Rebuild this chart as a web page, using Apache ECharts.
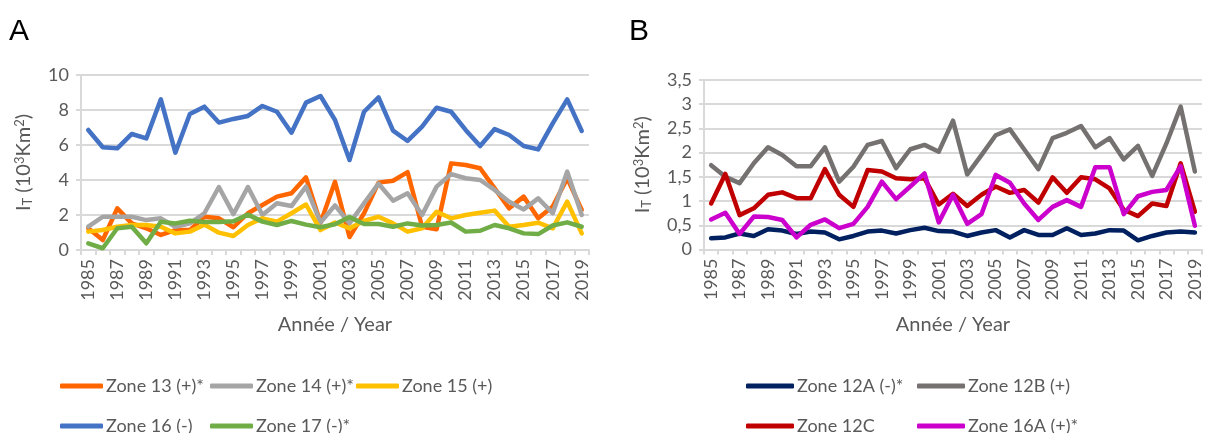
<!DOCTYPE html>
<html>
<head>
<meta charset="utf-8">
<script src="https://cdn.jsdelivr.net/npm/echarts@6/dist/echarts.min.js"></script>
<style>
  html, body { margin: 0; padding: 0; background: #ffffff; }
  #chart { width: 1205px; height: 433px; }
</style>
</head>
<body>
<div id="chart"></div>
<script>
// Years shared by both panels
const years = [
  1985, 1986, 1987, 1988, 1989, 1990, 1991, 1992, 1993, 1994,
  1995, 1996, 1997, 1998, 1999, 2000, 2001, 2002, 2003, 2004,
  2005, 2006, 2007, 2008, 2009, 2010, 2011, 2012, 2013, 2014,
  2015, 2016, 2017, 2018, 2019
];

// Panel A: I_T (10^3 km^2) per zone
const zone13 = [1.24, 0.57, 2.38, 1.52, 1.24, 0.86, 1.14, 1.14, 1.90, 1.81,
  1.30, 2.10, 2.57, 3.05, 3.24, 4.15, 1.55, 3.90, 0.74, 2.10,
  3.85, 3.96, 4.45, 1.33, 1.18, 4.95, 4.86, 4.67, 3.52, 2.38,
  3.05, 1.81, 2.48, 4.10, 2.29];
const zone14 = [1.33, 1.90, 1.90, 1.90, 1.71, 1.81, 1.33, 1.52, 2.10, 3.60,
  2.05, 3.60, 2.00, 2.67, 2.51, 3.62, 1.57, 2.55, 1.52, 2.67,
  3.79, 2.82, 3.24, 2.00, 3.62, 4.34, 4.10, 4.00, 3.43, 2.76,
  2.32, 2.95, 2.10, 4.48, 2.00];
const zone15 = [1.05, 1.14, 1.33, 1.43, 1.43, 1.33, 0.95, 1.05, 1.45, 0.99,
  0.80, 1.43, 1.81, 1.62, 2.10, 2.60, 1.14, 1.57, 1.24, 1.66,
  1.90, 1.52, 1.05, 1.24, 2.19, 1.81, 2.00, 2.13, 2.25, 1.33,
  1.43, 1.56, 1.24, 2.76, 0.95];
const zone16 = [6.86, 5.87, 5.81, 6.63, 6.38, 8.61, 5.56, 7.77, 8.19, 7.28,
  7.49, 7.66, 8.23, 7.90, 6.70, 8.42, 8.80, 7.43, 5.14, 7.90,
  8.72, 6.82, 6.23, 7.05, 8.13, 7.90, 6.86, 5.94, 6.91, 6.57,
  5.94, 5.75, 7.24, 8.61, 6.80];
const zone17 = [0.38, 0.10, 1.24, 1.33, 0.38, 1.62, 1.52, 1.67, 1.60, 1.60,
  1.64, 2.02, 1.62, 1.43, 1.66, 1.45, 1.30, 1.47, 1.88, 1.49,
  1.49, 1.33, 1.52, 1.40, 1.43, 1.57, 1.05, 1.10, 1.43, 1.24,
  0.95, 0.91, 1.40, 1.58, 1.33];

// Panel B: I_T (10^3 km^2) per zone
const zone12A = [0.23, 0.25, 0.33, 0.28, 0.42, 0.39, 0.32, 0.37, 0.35, 0.21,
  0.28, 0.37, 0.39, 0.33, 0.40, 0.45, 0.38, 0.37, 0.28, 0.35,
  0.40, 0.25, 0.40, 0.30, 0.30, 0.44, 0.30, 0.33, 0.40, 0.39,
  0.19, 0.28, 0.35, 0.37, 0.35];
const zone12B = [1.74, 1.50, 1.37, 1.78, 2.11, 1.95, 1.72, 1.72, 2.11, 1.40,
  1.71, 2.16, 2.24, 1.68, 2.07, 2.16, 2.02, 2.66, 1.55, 1.95,
  2.36, 2.48, 2.07, 1.66, 2.30, 2.41, 2.55, 2.11, 2.30, 1.86,
  2.14, 1.52, 2.19, 2.95, 1.61];
const zone12C = [0.95, 1.56, 0.71, 0.85, 1.13, 1.18, 1.06, 1.06, 1.66, 1.13,
  0.88, 1.64, 1.61, 1.47, 1.45, 1.47, 0.93, 1.15, 0.90, 1.13,
  1.30, 1.17, 1.23, 0.97, 1.49, 1.17, 1.49, 1.45, 1.26, 0.82,
  0.69, 0.95, 0.90, 1.78, 0.78];
const zone16A = [0.62, 0.76, 0.32, 0.68, 0.67, 0.61, 0.25, 0.51, 0.62, 0.44,
  0.53, 0.88, 1.40, 1.04, 1.30, 1.57, 0.56, 1.13, 0.53, 0.73,
  1.54, 1.38, 0.95, 0.61, 0.88, 1.02, 0.88, 1.70, 1.70, 0.73,
  1.10, 1.19, 1.23, 1.72, 0.49];

// Tick labels
const yTicksA = [0, 2, 4, 6, 8, 10];
const yTicksB = [0, 0.5, 1, 1.5, 2, 2.5, 3, 3.5];
const xTitle = 'Année / Year';

const FONT = 'Lato, "Open Sans", sans-serif';
const TXT = '#595959';
const GRID = '#d9d9d9';

const chart = echarts.init(document.getElementById('chart'), null, { renderer: 'canvas' });

const yName = '{i|I}{s|T}{n| (10}{p|3}{n|Km}{p|2}{n|)}';
const yNameStyle = {
  color: TXT,
  fontFamily: FONT,
  rich: {
    i: { fontSize: 20, fontFamily: FONT, color: TXT },
    s: { fontSize: 13, fontFamily: FONT, color: TXT, padding: [8, 0, 0, 0] },
    n: { fontSize: 20, fontFamily: FONT, color: TXT },
    p: { fontSize: 13, fontFamily: FONT, color: TXT, padding: [0, 0, 9, 0] }
  }
};

function xAxis(gridIndex) {
  return {
    type: 'category',
    gridIndex: gridIndex,
    data: years.map(String),
    boundaryGap: true,
    name: xTitle,
    nameLocation: 'middle',
    nameGap: 65,
    nameTextStyle: { fontSize: 20, fontFamily: FONT, color: TXT },
    axisLine: { lineStyle: { color: GRID, width: 2 } },
    axisTick: { show: true, interval: 0, length: 5, lineStyle: { color: GRID, width: 2 } },
    axisLabel: {
      interval: 1, rotate: 90, margin: 9,
      fontSize: 18, fontFamily: FONT, color: TXT
    },
    splitLine: { show: false }
  };
}

function yAxis(gridIndex, ticks, comma) {
  const step = ticks[1] - ticks[0];
  return {
    type: 'value',
    gridIndex: gridIndex,
    min: ticks[0],
    max: ticks[ticks.length - 1],
    interval: step,
    name: yName,
    nameLocation: 'middle',
    nameRotate: 90,
    nameGap: comma ? 50 : 46,
    nameTextStyle: yNameStyle,
    axisLine: { show: true, lineStyle: { color: GRID, width: 2 } },
    axisTick: { show: true, length: 5, lineStyle: { color: GRID, width: 2 } },
    axisLabel: {
      margin: 12, fontSize: 18, fontFamily: FONT, color: TXT,
      formatter: v => comma ? String(v).replace('.', ',') : String(v)
    },
    splitLine: { show: true, lineStyle: { color: GRID, width: 2 } }
  };
}

function line(name, data, color, axisIdx) {
  return {
    name: name,
    type: 'line',
    xAxisIndex: axisIdx,
    yAxisIndex: axisIdx,
    data: data,
    showSymbol: false,
    symbol: 'none',
    lineStyle: { color: color, width: 4.5, join: 'round', cap: 'round' },
    itemStyle: { color: color },
    emphasis: { disabled: true },
    animation: false
  };
}

const seriesA = [
  ['Zone 13 (+)*', zone13, '#FF6600'],
  ['Zone 14 (+)*', zone14, '#A5A5A5'],
  ['Zone 15 (+)', zone15, '#FFC000'],
  ['Zone 16 (-)', zone16, '#4472C4'],
  ['Zone 17 (-)*', zone17, '#70AD47']
];
const seriesB = [
  ['Zone 12A (-)*', zone12A, '#002060'],
  ['Zone 12B (+)', zone12B, '#767171'],
  ['Zone 12C', zone12C, '#C00000'],
  ['Zone 16A (+)*', zone16A, '#CC00CC']
];

// legend slots: [name, left, top, icon length]
const legendSlots = [
  ['Zone 13 (+)*', 60, 375, 43], ['Zone 14 (+)*', 210, 375, 43], ['Zone 15 (+)', 356, 375, 43],
  ['Zone 16 (-)', 60, 415, 43], ['Zone 17 (-)*', 210, 415, 43],
  ['Zone 12A (-)*', 746, 375, 48], ['Zone 12B (+)', 917, 375, 48],
  ['Zone 12C', 746, 415, 48], ['Zone 16A (+)*', 917, 415, 48]
];

const legends = legendSlots.map(([name, left, top, len]) => ({
  data: [name],
  left: left,
  top: top,
  padding: 0,
  icon: 'roundRect',
  itemWidth: len,
  itemHeight: 5,
  itemGap: 0,
  selectedMode: false,
  textStyle: { fontSize: 18, fontFamily: FONT, color: TXT, padding: [0, 0, 0, -2], lineHeight: 22 }
}));

const option = {
  animation: false,
  backgroundColor: '#ffffff',
  grid: [
    { left: 81, right: 616, top: 75, bottom: 183, containLabel: false },
    { left: 704, right: 3, top: 80, bottom: 183.5, containLabel: false }
  ],
  xAxis: [xAxis(0), xAxis(1)],
  yAxis: [yAxis(0, yTicksA, false), yAxis(1, yTicksB, true)],
  legend: legends,
  series: [
    ...seriesA.map(s => line(s[0], s[1], s[2], 0)),
    ...seriesB.map(s => line(s[0], s[1], s[2], 1))
  ],
  graphic: [
    { type: 'text', left: 9, top: 17, style: { text: 'A', fontSize: 30, fontFamily: '"Liberation Sans", Arial, sans-serif', fill: '#000' } },
    { type: 'text', left: 629, top: 17, style: { text: 'B', fontSize: 30, fontFamily: '"Liberation Sans", Arial, sans-serif', fill: '#000' } }
  ]
};

chart.setOption(option);
</script>
</body>
</html>
